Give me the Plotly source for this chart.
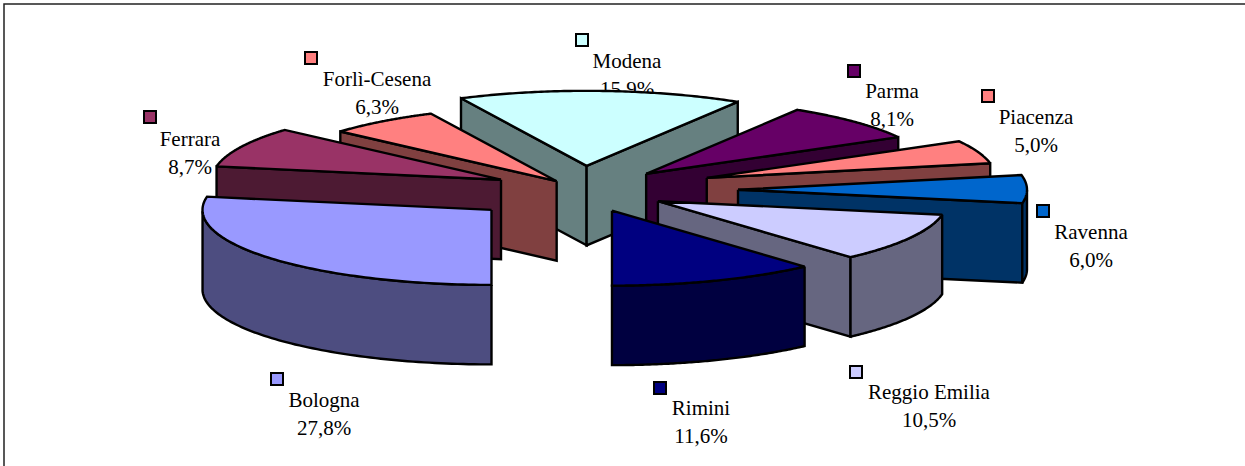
import numpy as np
import plotly.graph_objects as go

categories = ["Bologna", "Ferrara", "Forlì-Cesena", "Modena", "Parma", "Piacenza", "Ravenna", "Reggio Emilia", "Rimini"]
values = [27.8, 8.7, 6.3, 15.9, 8.1, 5.0, 6.0, 10.5, 11.6]
top_colors = ["#9999FF", "#993366", "#FF8080", "#CCFFFF", "#660066", "#FF8080", "#0066CC", "#CCCCFF", "#000080"]
side_colors = ["#4D4D80", "#4D1A33", "#804040", "#668080", "#330033", "#804040", "#003366", "#666680", "#000040"]
explode = [118, 90, 42, 92, 89, 133, 156, 87, 84]

# layout of the drawing, in page pixels
CX, CY, RX, RY, DEPTH, START = 582, 190, 289, 75, 79.5, 180
key_pos = [(277, 379), (150, 117), (311, 58), (582, 40), (854, 71), (988, 96), (1043, 211), (856, 372), (660, 388)]
label_pos = [(324, 402), (190, 141), (377, 81), (627, 63), (892, 93), (1036, 119), (1091, 234), (929, 394), (701, 410)]
LINE_GAP = 28
draw_order = [3, 2, 1, 0, 4, 5, 6, 7, 8]

total = sum(values)
edges = START + np.concatenate([[0], np.cumsum(values)]) * 360 / total


def pt(a, ox, oy):
    r = np.radians(a)
    return ox + RX * np.sin(r), oy - RY * np.cos(r)


fig = go.Figure()

# labels sit beneath the pie, which clips them slightly in the reference
fig.add_trace(go.Scatter(
    x=[p[0] for p in label_pos], y=[p[1] for p in label_pos], mode="text", text=categories,
    textfont=dict(family="Liberation Serif", size=21, color="black"), textposition="middle center",
    hoverinfo="skip"))
fig.add_trace(go.Scatter(
    x=[p[0] for p in label_pos], y=[p[1] + LINE_GAP for p in label_pos], mode="text",
    text=[f"{v:.1f}%".replace(".", ",") for v in values],
    textfont=dict(family="Liberation Serif", size=21, color="black"), textposition="middle center",
    hoverinfo="skip"))


def poly(xs, ys, color):
    fig.add_trace(go.Scatter(
        x=list(xs) + [xs[0]], y=list(ys) + [ys[0]], mode="lines", fill="toself", fillcolor=color,
        line=dict(color="black", width=2.4, simplify=False), hoverinfo="skip"))


for i in draw_order:
    a0, a1 = edges[i], edges[i + 1]
    mid = np.radians((a0 + a1) / 2)
    ox = CX + explode[i] * np.sin(mid)
    oy = CY - explode[i] * 0.263 * np.cos(mid)
    # radial faces: start face shows on the left half, end face on the right half
    for a, show in ((a0, np.sin(np.radians(a0)) < -1e-3), (a1, np.sin(np.radians(a1)) > 1e-3)):
        if show:
            ex, ey = pt(a, ox, oy)
            poly([ox, ex, ex, ox], [oy, ey, ey + DEPTH, oy + DEPTH], side_colors[i])
    # outer rim: only the part facing the viewer
    arc = np.linspace(a0, a1, 90)
    front = arc[np.cos(np.radians(arc)) < 0]
    if len(front) > 1:
        ax, ay = pt(front, ox, oy)
        poly(list(ax) + list(ax[::-1]), list(ay) + list((ay + DEPTH)[::-1]), side_colors[i])
    # top face
    ax, ay = pt(arc, ox, oy)
    poly([ox] + list(ax), [oy] + list(ay), top_colors[i])

fig.add_trace(go.Scatter(
    x=[p[0] for p in key_pos], y=[p[1] for p in key_pos], mode="markers",
    marker=dict(symbol="square", size=12, color=top_colors, line=dict(color="black", width=2)),
    hoverinfo="skip"))

fig.update_layout(
    width=1245, height=466, margin=dict(l=0, r=0, t=0, b=0), showlegend=False,
    paper_bgcolor="white", plot_bgcolor="white",
    xaxis=dict(range=[0, 1245], visible=False, fixedrange=True),
    yaxis=dict(range=[466, 0], visible=False, fixedrange=True),
    shapes=[dict(type="rect", xref="x", yref="y", x0=4, y0=4, x1=1280, y1=500,
                 line=dict(color="#222222", width=1.5), layer="below")],
)
fig.write_html("out.html", config={"displayModeBar": False},
               post_script="document.body.style.margin='0';")
